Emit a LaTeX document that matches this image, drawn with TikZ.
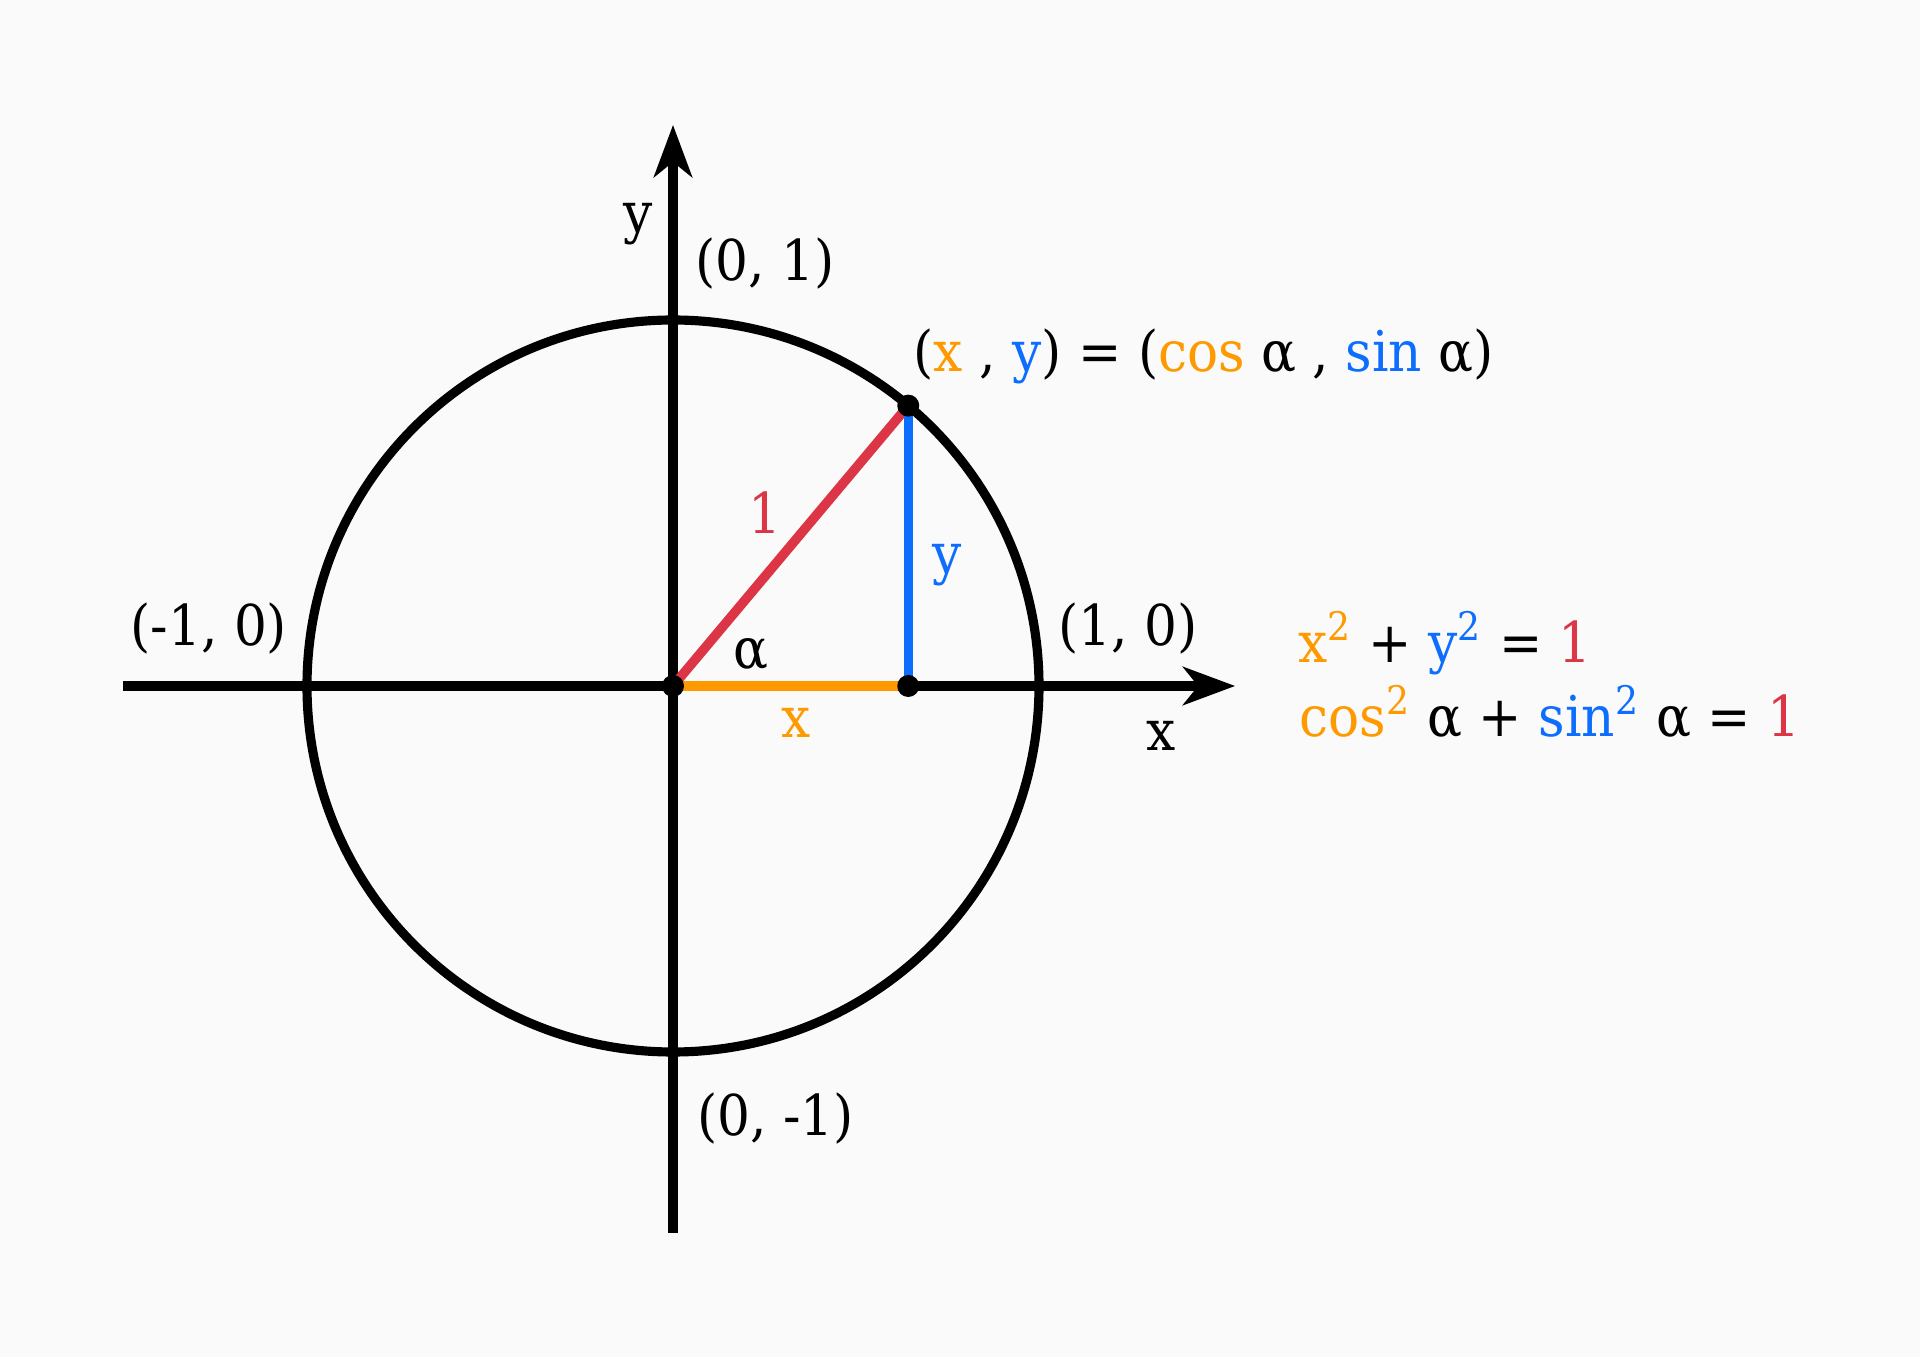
\documentclass[tikz,border=0pt]{standalone}
\usepackage{fontspec}
\setmainfont{DejaVu Serif}[FakeStretch = 0.92]
\usepackage{tikz}
\usetikzlibrary{arrows.meta}
\usetikzlibrary{calc}
\definecolor{paper}{HTML}{FAFAFA}
\definecolor{cosorange}{HTML}{FF9900}
\definecolor{sinblue}{HTML}{0D6EFD}
\definecolor{unitred}{HTML}{DC3545}
\tikzset{
    axisline/.style = {line width = 2.7pt, -{Stealth[length = 5.2mm, width = 3.8mm, inset = 1.5mm]}},
    pointtext/.style = {font = {\fontsize{16}{19}\selectfont}, inner sep = 0pt, anchor = base},
    formula/.style = {font = {\fontsize{16}{19}\selectfont}, inner sep = 0pt, anchor = base west}
}

\begin{document}
\begin{tikzpicture}[x = 3.66cm, y = 3.66cm]
            \fill[paper] (-6.73cm, -6.71cm) rectangle (12.47cm, 6.86cm);
            \useasboundingbox (-6.73cm, -6.71cm) rectangle (12.47cm, 6.86cm);
            % points of the unit circle
            \coordinate (O) at (0, 0);
            \coordinate (P) at (50:1);
            \coordinate (F) at ({cos(50)}, 0);
            \coordinate (xstart) at (-1.503, 0);
            \coordinate (xend) at (1.536, 0);
            \coordinate (ystart) at (0, -1.495);
            \coordinate (yend) at (0, 1.533);
            % axes and circle
            \draw[axisline] (xstart) -- (xend);
            \draw[axisline] (ystart) -- (yend);
            \draw[line width = 2.6pt] (O) circle [radius = 1];
            % triangle
            \draw[line width = 2.7pt, unitred] (O) -- (P);
            \draw[line width = 2.7pt, sinblue] (P) -- (F);
            \draw[line width = 2.7pt, cosorange] (O) -- (F);
            \foreach \p in {O, P, F} {
                \fill (\p) circle [radius = 1.1mm];
            }
            % labels
            \node[pointtext] (ylabel) at (-0.096, 1.240) {y};
            \node[pointtext] (xlabel) at (1.333, -0.175) {x};
            \node[pointtext] (top) at (0.251, 1.109) {(0, 1)};
            \node[pointtext] (bottom) at (0.281, -1.227) {(0, -1)};
            \node[pointtext] (left) at (-1.268, 0.112) {(-1, 0)};
            \node[pointtext] (right) at (1.243, 0.112) {(1, 0)};
            \node[pointtext, unitred] (one) at (0.251, 0.418) {1};
            \node[pointtext, sinblue] (sinlabel) at (0.749, 0.306) {y};
            \node[pointtext, cosorange] (coslabel) at (0.336, -0.142) {x};
            \node[pointtext] (alpha) at (0.213, 0.049) {α};
            \node[formula] (pointP) at (0.656, 0.858) {(\textcolor{cosorange}{x} , \textcolor{sinblue}{y}) = (\textcolor{cosorange}{cos} α , \textcolor{sinblue}{sin} α)};
            \node[formula] (eqxy) at (1.707, 0.063) {\textcolor{cosorange}{x\textsuperscript{2}} + \textcolor{sinblue}{y\textsuperscript{2}} = \textcolor{unitred}{1}};
            \node[formula] (eqcs) at (1.710, -0.139) {\textcolor{cosorange}{cos\textsuperscript{2}} α + \textcolor{sinblue}{sin\textsuperscript{2}} α = \textcolor{unitred}{1}};
        \end{tikzpicture}
\end{document}
